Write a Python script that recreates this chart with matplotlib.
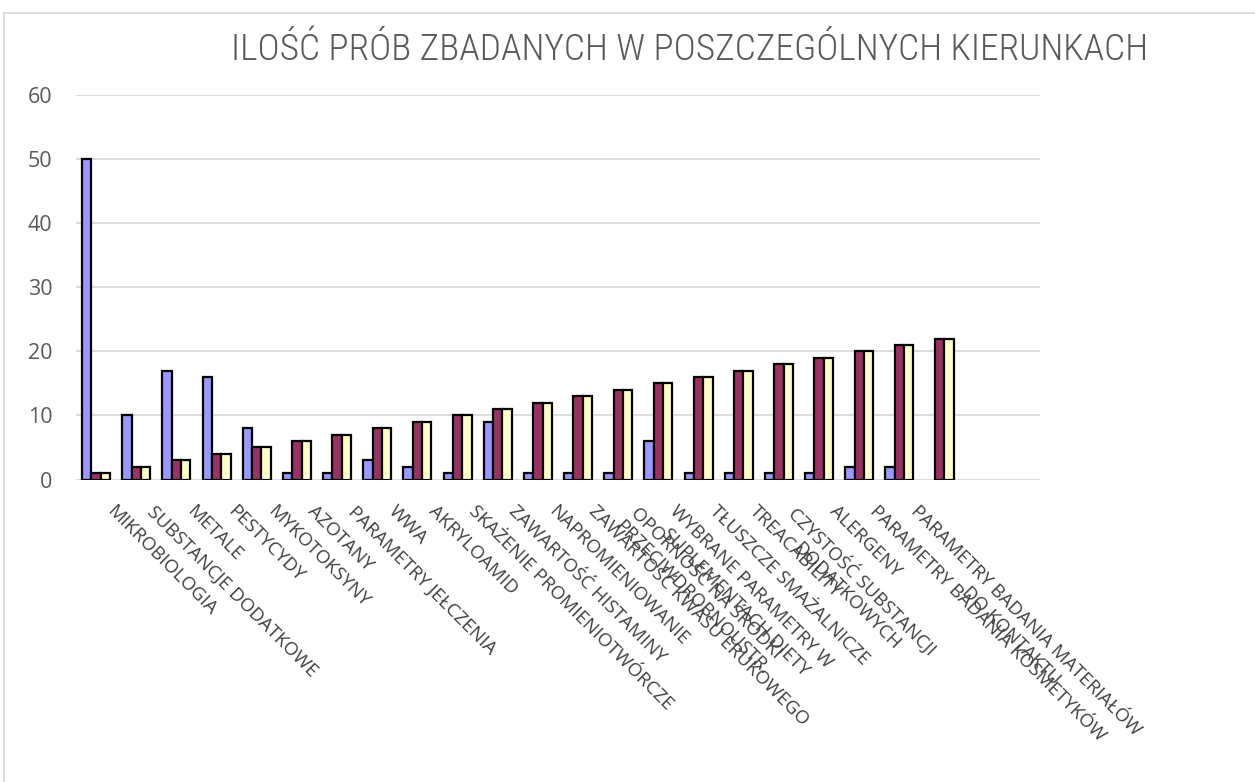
import numpy as np
from matplotlib import pyplot as plt
from matplotlib import font_manager
from matplotlib import transforms as mtransforms
from matplotlib.lines import Line2D

# category names (last group has no label in the source sheet)
categories = [
    "MIKROBIOLOGIA",
    "SUBSTANCJE DODATKOWE",
    "METALE",
    "PESTYCYDY",
    "MYKOTOKSYNY",
    "AZOTANY",
    "PARAMETRY JEŁCZENIA",
    "WWA",
    "AKRYLOAMID",
    "SKAŻENIE PROMIENIOTWÓRCZE",
    "ZAWARTOŚĆ HISTAMINY",
    "NAPROMIENIOWANIE",
    "ZAWARTOŚĆ KWASU ERUKOWEGO",
    "OPORNOŚĆ NA ŚRODKI\nPRZECIWDROBNOUSTR.",
    "WYBRANE PARAMETRY W\nSUPLEMENTACH DIETY",
    "TŁUSZCZE SMAŻALNICZE",
    "TREACABILITY",
    "CZYSTOŚĆ SUBSTANCJI\nDODATKOWYCH",
    "ALERGENY",
    "PARAMETRY BADANIA KOSMETYKÓW",
    "PARAMETRY BADANIA MATERIAŁÓW\nDO KONTAKTU",
    "",
]

# number of samples (blue), the two other series hold the row number
samples = [50, 10, 17, 16, 8, 1, 1, 3, 2, 1, 9, 1, 1, 1, 6, 1, 1, 1, 1, 2, 2, np.nan]
row_no_a = [1, 2, 3, 4, 5, 6, 7, 8, 9, 10, 11, 12, 13, 14, 15, 16, 17, 18, 19, 20, 21, 22]
row_no_b = [1, 2, 3, 4, 5, 6, 7, 8, 9, 10, 11, 12, 13, 14, 15, 16, 17, 18, 19, 20, 21, 22]

y_ticks = [0, 10, 20, 30, 40, 50, 60]

# the excel axis keeps two empty category slots at the right end
n_slots = 24

text_grey = "#595959"
label_grey = "#404040"
grid_grey = "#D9D9D9"

# pick a narrow face for the title if one is installed
installed = {f.name for f in font_manager.fontManager.ttflist}
title_font = "DejaVu Sans"
for name in ["Liberation Sans Narrow", "Roboto Condensed", "Open Sans Condensed",
             "DejaVu Sans Condensed", "Roboto"]:
    if name in installed:
        title_font = name
        break

plt.rcParams['font.family'] = ['Open Sans', 'DejaVu Sans']

W, H = 1255, 782
fig = plt.figure(figsize=(W / 100, H / 100), dpi=100)
fig.patch.set_facecolor("white")

# plot area in pixels: x 76..1040, y 95..479.5 (from top)
ax = fig.add_axes([76 / W, 1 - 479.5 / H, (1040 - 76) / W, (479.5 - 95) / H])

x = np.arange(len(categories))
bw = 0.7 / 3
ax.bar(x - bw, samples, bw, color="#9999FF", edgecolor="black", linewidth=1.6, zorder=3)
ax.bar(x, row_no_a, bw, color="#993366", edgecolor="black", linewidth=1.6, zorder=3)
ax.bar(x + bw, row_no_b, bw, color="#FFFFCC", edgecolor="black", linewidth=1.6, zorder=3)

ax.set_xlim(-0.5, n_slots - 0.5)
ax.set_ylim(0, 60)
ax.set_yticks(y_ticks)
ax.yaxis.grid(True, color=grid_grey, linewidth=1.3, zorder=0)
ax.set_axisbelow(True)
for s in ax.spines.values():
    s.set_visible(False)

ax.tick_params(axis="y", length=0, pad=17, labelsize=15.5, labelcolor=text_grey)
ax.tick_params(axis="x", length=0, pad=0)

ax.set_xticks(x)
ax.set_xticklabels(categories, rotation=-45, ha="left", va="top",
                   rotation_mode="anchor", fontsize=13.5, color=label_grey,
                   multialignment="center")
offset = mtransforms.ScaledTranslation(20 / 100, -23 / 100, fig.dpi_scale_trans)
for lab in ax.get_xticklabels():
    lab.set_transform(lab.get_transform() + offset)

# light frame of the chart object (runs off the right and bottom edge)
fig.add_artist(Line2D([4 / W, 4 / W], [-0.1, 1 - 13 / H], color=grid_grey, lw=1.2))
fig.add_artist(Line2D([4 / W, 1.1], [1 - 13 / H, 1 - 13 / H], color=grid_grey, lw=1.2))

title = fig.text(690 / W, 1 - 60 / H, "ILOŚĆ PRÓB ZBADANYCH W POSZCZEGÓLNYCH KIERUNKACH",
                 ha="center", va="baseline", fontsize=28, color=text_grey,
                 fontweight="light", family=[title_font, 'DejaVu Sans'])
# scale the title so it spans the same width as in the source
fig.canvas.draw()
tw = title.get_window_extent().width
title.set_fontsize(28 * 916 / tw)

fig.savefig("out.png", dpi=100)
